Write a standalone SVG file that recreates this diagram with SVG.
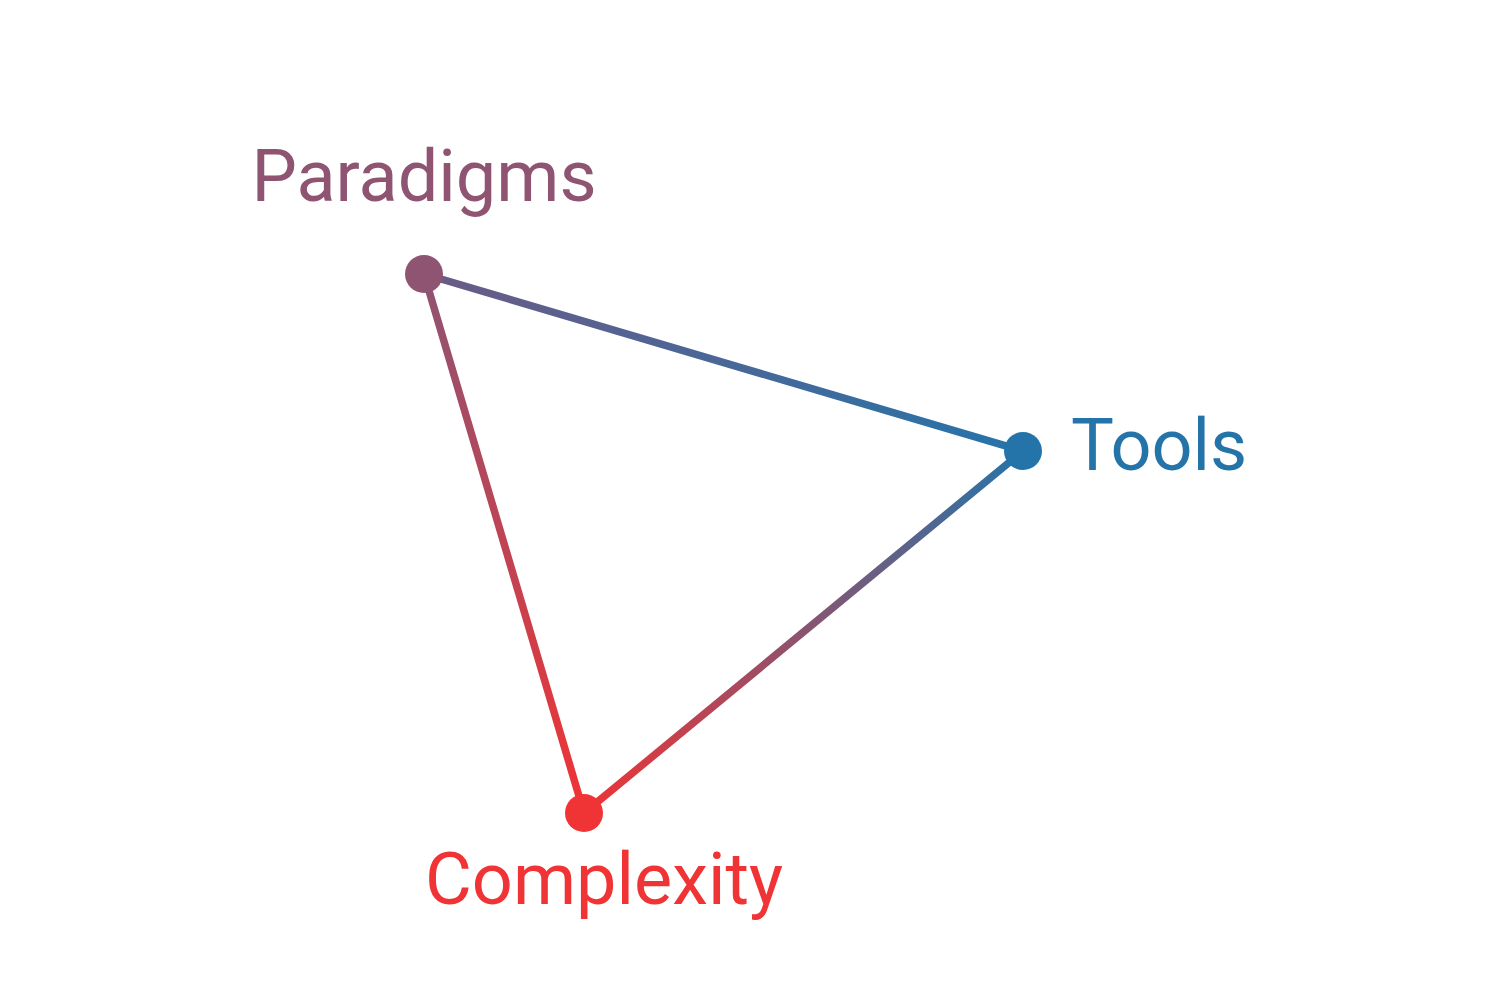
<svg xmlns="http://www.w3.org/2000/svg" width="1500" height="1000" viewBox="0 0 1500 1000">
<defs>
<linearGradient id="gPT" gradientUnits="userSpaceOnUse" x1="424" y1="274" x2="1023" y2="451"><stop offset="0" stop-color="#6C5A86"/><stop offset="1" stop-color="#2574A9"/></linearGradient>
<linearGradient id="gTC" gradientUnits="userSpaceOnUse" x1="1023" y1="451" x2="584" y2="813"><stop offset="0" stop-color="#2574A9"/><stop offset="1" stop-color="#F03335"/></linearGradient>
<linearGradient id="gPC" gradientUnits="userSpaceOnUse" x1="424" y1="274" x2="584" y2="813"><stop offset="0" stop-color="#8E5472"/><stop offset="1" stop-color="#F03335"/></linearGradient>
</defs>
<style>
.edge{fill:none;stroke-width:7.5;stroke-linecap:round}
.lbl{font-family:Roboto,"Liberation Sans",sans-serif;font-size:72px}
</style>
<rect width="1500" height="1000" fill="#ffffff"/>
<g id="connectors">
<line class="edge" x1="424" y1="274" x2="1023" y2="451" stroke="url(#gPT)"/>
<line class="edge" x1="1023" y1="451" x2="584" y2="813" stroke="url(#gTC)"/>
<line class="edge" x1="424" y1="274" x2="584" y2="813" stroke="url(#gPC)"/>
</g>
<g id="paradigms">
<circle cx="424" cy="274" r="19" fill="#8E5472"/>
<text class="lbl" x="424" y="201" text-anchor="middle" fill="#8E5472">Paradigms</text>
</g>
<g id="tools">
<circle cx="1023" cy="451" r="19" fill="#2574A9"/>
<text class="lbl" x="1071" y="470" fill="#2574A9">Tools</text>
</g>
<g id="complexity">
<circle cx="584" cy="813" r="19" fill="#F03335"/>
<text class="lbl" x="425" y="904" fill="#F03335">Complexity</text>
</g>
</svg>
